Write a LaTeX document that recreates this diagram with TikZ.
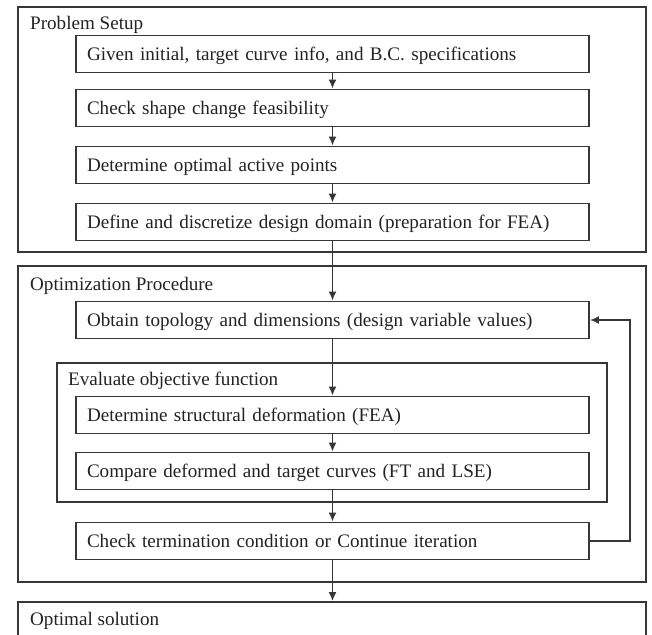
\documentclass[tikz,border=0pt]{standalone}
\usepackage{fontspec}
\setmainfont{Liberation Serif}
\usetikzlibrary{
  arrows.meta,
  positioning
}
\definecolor{cline}{RGB}{55,55,55}
\definecolor{ctext}{RGB}{35,35,35}
\newcommand{\steptext}{\fontsize{19.1}{23}\selectfont}
\tikzset{
  stepbox/.style={
    rectangle, draw=cline, line width=1.8pt,
    minimum width=513pt, minimum height=37pt,
    text width=491pt, align=left,
    inner xsep=11pt, inner ysep=0pt,
    text height=14pt, text depth=2pt,
    text=ctext, font=\steptext
  },
  group/.style={
    rectangle, draw=cline, line width=1.8pt,
    inner sep=0pt
  },
  grouplabel/.style={
    anchor=base west, inner sep=0pt,
    text=ctext, font=\steptext
  },
  arr/.style={-{Latex[length=9pt,width=8pt]}, line width=1.8pt, color=cline}
}
\begin{document}
\begin{tikzpicture}[x=1pt, y=1pt]

    \useasboundingbox (0,0) rectangle (652,-634);
    \clip (0,0) rectangle (652,-634);
    \fill[white] (0,0) rectangle (652,-634);

    %% Groups
    \node[group, minimum width=628pt, minimum height=245pt] (setup) at (332,-129.5) {};
    \node[grouplabel] (setuplbl) at (30,-30) {Problem Setup};

    \node[group, minimum width=628pt, minimum height=316pt] (optim) at (332,-424) {};
    \node[grouplabel] (optimlbl) at (30,-290) {Optimization Procedure};

    \node[group, minimum width=550pt, minimum height=139pt] (evalobj) at (332,-432.5) {};
    \node[grouplabel] (evallbl) at (68,-385.5) {Evaluate objective function};

    \node[group, minimum width=628pt, minimum height=60pt] (optimal) at (332,-632) {};
    \node[grouplabel] (optimallbl) at (30,-625) {Optimal solution};

    %% Problem setup steps
    \node[stepbox] (given) at (332.5,-54) {Given initial, target curve info, and B.C. specifications};
    \node[stepbox] (feasible) at (332.5,-108) {Check shape change feasibility};
    \node[stepbox] (active) at (332.5,-165) {Determine optimal active points};
    \node[stepbox] (domain) at (332.5,-222) {Define and discretize design domain (preparation for FEA)};

    %% Optimization steps
    \node[stepbox] (obtain) at (332.5,-320) {Obtain topology and dimensions (design variable values)};
    \node[stepbox] (deform) at (332.5,-415) {Determine structural deformation (FEA)};
    \node[stepbox] (compare) at (332.5,-471) {Compare deformed and target curves (FT and LSE)};
    \node[stepbox] (check) at (332.5,-541) {Check termination condition or Continue iteration};

    %% Arrows
    \draw[arr] (given) -- (feasible);
    \draw[arr] (feasible) -- (active);
    \draw[arr] (active) -- (domain);
    \draw[arr] (domain) -- (obtain);
    \draw[arr] (obtain) -- (deform);
    \draw[arr] (deform) -- (compare);
    \draw[arr] (compare) -- (check);
    \draw[arr] (check.south) -- (optimal.north -| check.south);

    %% Iteration loop
    \coordinate (loop) at (630,-430);
    \draw[arr] (check.east) -| (loop) |- (obtain.east);

\end{tikzpicture}
\end{document}
